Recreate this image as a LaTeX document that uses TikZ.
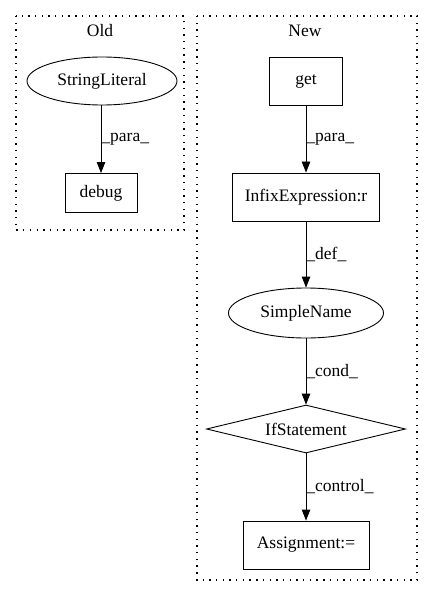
\documentclass[tikz,border=0pt]{standalone}
\usepackage{fontspec}
\setmainfont{Liberation Serif}
\usetikzlibrary{shapes.geometric,arrows.meta}
\begin{document}
\begin{tikzpicture}[x=1pt,y=-1pt,
  every node/.style={font=\fontsize{17.5}{20}\selectfont},
  cluster/.style={draw,dash pattern=on 1.4pt off 5.3pt,line width=1.4pt},
  boxnode/.style={draw,rectangle,inner sep=0pt,line width=0.9pt},
  ellnode/.style={draw,ellipse,inner sep=0pt,line width=0.9pt},
  dianode/.style={draw,diamond,aspect=4.1,inner sep=0pt,line width=0.9pt},
  edge/.style={-{Triangle[length=11pt,width=8.5pt]},line width=0.9pt},
  elabel/.style={anchor=west,inner sep=0pt}]
\useasboundingbox (0,0) rectangle (432,596);
\draw[cluster] (16,16) rectangle (184,230);
\draw[cluster] (197,16) rectangle (417,580);
\node (old) at (100,31) {Old};
\node (new) at (305,31) {New};
\node[ellnode,minimum width=150pt,minimum height=48pt] (sl) at (102,81) {StringLiteral};
\node[boxnode,minimum width=72pt,minimum height=39pt] (debug) at (101,193) {debug};
\node[boxnode,minimum width=73pt,minimum height=48pt] (get) at (306,81) {get};
\node[boxnode,minimum width=147pt,minimum height=48pt] (infix) at (306,197) {InfixExpression:r};
\node[ellnode,minimum width=155pt,minimum height=50pt] (sn) at (306,313) {SimpleName};
\node[dianode,minimum width=199pt,minimum height=48pt] (if) at (306,429) {IfStatement};
\node[boxnode,minimum width=126pt,minimum height=48pt] (asg) at (306,545) {Assignment:=};
\draw[edge] (sl.south -| debug.north) -- (debug.north) node[pos=0.5,elabel] {\_para\_};
\draw[edge] (get) -- (infix) node[pos=0.5,elabel] {\_para\_};
\draw[edge] (infix) -- (sn) node[pos=0.5,elabel] {\_def\_};
\draw[edge] (sn) -- (if) node[pos=0.5,elabel] {\_cond\_};
\draw[edge] (if) -- (asg) node[pos=0.5,elabel] {\_control\_};
\end{tikzpicture}
\end{document}
